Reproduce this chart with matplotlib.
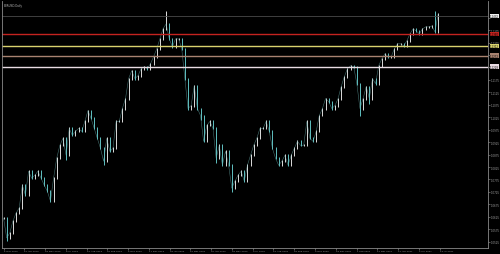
import numpy as np
import matplotlib
matplotlib.use("Agg")
import matplotlib.pyplot as plt

# closes in points above the base price
base_price = 1.0500
point = 0.0004
close_pts = [30, 10, 15, 27, 35, 40, 63, 53, 77, 70, 73, 77, 70, 63, 57, 47, 70, 90, 103, 110,
             93, 120, 113, 117, 120, 117, 127, 138, 130, 120, 110, 100, 87, 110, 97, 100, 127, 127, 140, 150,
             170, 178, 170, 173, 180, 182, 180, 185, 192, 200, 210, 220, 225, 210, 202, 210, 210, 200, 170, 140,
             143, 163, 140, 133, 107, 123, 127, 120, 90, 103, 83, 97, 83, 60, 67, 73, 77, 67, 83, 93,
             103, 110, 120, 120, 127, 117, 100, 90, 83, 87, 93, 83, 93, 100, 107, 103, 103, 127, 110, 107,
             117, 133, 140, 150, 147, 140, 143, 150, 162, 172, 180, 183, 182, 165, 140, 150, 162, 150, 170, 165,
             183, 190, 195, 192, 192, 200, 205, 205, 203, 208, 215, 220, 218, 215, 220, 222, 222, 223, 217, 235]
# a few long wicks: (bar index, points)
wicks = [(1, 7), (20, 88), (32, 83), (52, 238), (63, 128), (68, 85), (73, 56), (114, 133), (117, 145), (138, 238)]

level_pts = [215, 203, 193, 182]
level_colors = ["#c4231f", "#d9d26e", "#a88270", "#e9dce4"]
last_pts = 233

date_labels = ["5 Mar 2019", "16 Apr 2019", "28 May 2019", "8 Jul 2019", "16 Aug 2019", "26 Sep 2019",
               "6 Nov 2019", "17 Dec 2019", "29 Jan 2020", "10 Mar 2020", "20 Apr 2020", "29 May 2020",
               "9 Jul 2020", "19 Aug 2020", "29 Sep 2020", "9 Nov 2020", "18 Dec 2020", "1 Feb 2021",
               "12 Mar 2021", "22 Apr 2021", "2 Jun 2021", "13 Jul 2021"]

closes = base_price + np.array(close_pts) * point
n = len(closes)
opens = np.concatenate([[closes[0]], closes[:-1]])
highs = np.maximum(opens, closes) + 1.0 * point
lows = np.minimum(opens, closes) - 1.0 * point
for i, p in wicks:
    v = base_price + p * point
    highs[i] = max(highs[i], v)
    lows[i] = min(lows[i], v)

fig = plt.figure(figsize=(5, 2.55), dpi=100, facecolor="black")
ax = fig.add_axes([0.004, 0.024, 0.972, 0.968])
ax.set_facecolor("black")

up = closes >= opens
x = np.arange(n)
ax.vlines(x[up], lows[up], highs[up], color="#dcdcdc", lw=0.7)
ax.vlines(x[~up], lows[~up], highs[~up], color="#5fc0c2", lw=0.7)
# thin link so the bars read as one dense chart
ax.plot(x, closes, color="#6fb8b8", lw=0.4, alpha=0.6)

x_end = (n - 1) / 0.897
ax.set_xlim(-0.5, x_end)
ymin, ymax = base_price, base_price + 248 * point
ax.set_ylim(ymin, ymax)

# current price line and levels
last_price = base_price + last_pts * point
ax.axhline(last_price, color="#4a4a4a", lw=0.6)
for p, c in zip(level_pts, level_colors):
    ax.axhline(base_price + p * point, color=c, lw=1.0)

# right price scale
box_prices = [base_price + p * point for p in [last_pts] + level_pts]
ax.yaxis.tick_right()
yt = np.arange(1.0525, ymax - 0.002, 0.0050)
ax.set_yticks(yt)
ytl = []
for v in yt:
    # the coloured price boxes cover the scale labels under them
    if min(abs(v - b) for b in box_prices) < 2.5 * point:
        ytl.append("")
    else:
        ytl.append(f"{v:.4f}")
ax.set_yticklabels(ytl, fontsize=1.9, color="#9a9a9a")
ax.tick_params(axis="y", length=1.2, width=0.4, color="#9a9a9a", pad=0.4)

for v, c in zip(box_prices, ["#f2f2f2"] + level_colors):
    ax.text(1.004, v, f"{v:.4f}", transform=ax.get_yaxis_transform(), fontsize=1.9,
            color="black", va="center", ha="left",
            bbox=dict(boxstyle="square,pad=0.12", fc=c, ec="none"))

# bottom time scale
xt = np.linspace(0, x_end * 0.9, len(date_labels))
ax.set_xticks(xt)
ax.set_xticklabels(date_labels, fontsize=1.7, color="#9a9a9a", ha="left")
ax.tick_params(axis="x", length=1.2, width=0.4, color="#9a9a9a", pad=0.3)

for s in ["left", "right", "bottom"]:
    ax.spines[s].set_color("#8a8a8a")
    ax.spines[s].set_linewidth(0.6)
ax.spines["top"].set_visible(False)

ax.text(0.004, 0.994, "EURUSD,Daily", transform=ax.transAxes, fontsize=2.0,
        color="#b0b0b0", va="top", ha="left")

fig.savefig("out.png", dpi=100, facecolor="black")
